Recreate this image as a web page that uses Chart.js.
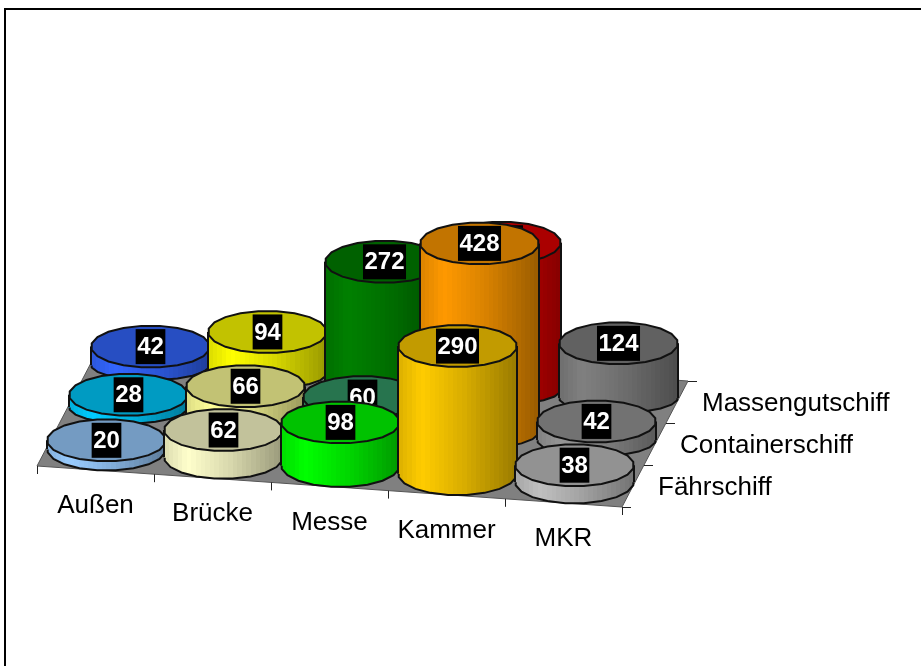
<!DOCTYPE html>
<html lang="de"><head><meta charset="utf-8">
<style>html,body{margin:0;padding:0;background:#fff}canvas{display:block}</style>
<script src="https://cdn.jsdelivr.net/npm/chart.js@4"></script>
</head><body><canvas id="c" width="921" height="666"></canvas>
<script>
const categories = ["Außen","Brücke","Messe","Kammer","MKR"];
const seriesNames = ["Fährschiff","Containerschiff","Massengutschiff"];
const faehrschiff = [20,62,98,290,38];
const containerschiff = [28,66,60,428,42];
const massengutschiff = [42,94,272,334,124];
const sideColorsF = ["#99CCFF","#FFFFCC","#00FF00","#FFCC00","#C0C0C0"];
const sideColorsC = ["#00CCFF","#FFFF99","#339966","#FF9900","#969696"];
const sideColorsM = ["#3366FF","#FFFF00","#008000","#E00000","#808080"];
const allValues = [faehrschiff,containerschiff,massengutschiff];
const allSides = [sideColorsF,sideColorsC,sideColorsM];

// scene projection (scale units)
const W=921,H=666, O={x:37,y:466}, STEP_CAT={x:117,y:8.2}, STEP_SER={x:22,y:-42}, UNIT=0.44;
const RX=59.5, RY=21, BOTTOM_RY=[21.5,16.5,15];
const project=(i,j)=>({x:O.x+i*STEP_CAT.x+j*STEP_SER.x,y:O.y+i*STEP_CAT.y+j*STEP_SER.y});

function shade(hex,f){const n=parseInt(hex.slice(1),16);
  const c=[n>>16&255,n>>8&255,n&255].map(v=>Math.min(255,Math.round(v*f)));return `rgb(${c[0]},${c[1]},${c[2]})`;}

const datasets=[];
const nC=categories.length,nS=seriesNames.length;
let order=1000;
const corners=[project(0,0),project(nC,0),project(nC,nS),project(0,nS),project(0,0)];
datasets.push({type:'line',data:corners,order:order--,fill:'shape',backgroundColor:'#808080',
  borderColor:'#555',borderWidth:1,pointRadius:0,tension:0,isFloor:true});
for(let j=nS-1;j>=0;j--){for(let i=0;i<nC;i++){
  const p=project(i+.5,j+.5), v=allValues[j][i], side=allSides[j][i];
  datasets.push({type:'bar',label:seriesNames[j]+' '+categories[i],data:[{x:p.x,y:[p.y,p.y-v*UNIT]}],
    value:v,side,row:j,order:order--,barThickness:RX*2,borderWidth:0,grouped:false,
    backgroundColor:ctx=>sideGradient(ctx.chart,side,p.x)});
}}
// banded side shading: light near the left, falling off to the right
function bandFactor(t){return t<.2? .86+.14*t/.2 : t<.55? 1-.15*(t-.2)/.35 : .85-.25*(t-.55)/.45;}
function sideGradient(chart,color,x){
  const c=chart.scales.x.getPixelForValue(x);
  if(!Number.isFinite(c))return color;
  const g=chart.ctx.createLinearGradient(c-RX,0,c+RX,0), B=26;
  for(let b=0;b<B;b++){const col=shade(color,bandFactor((b+.5)/B));
    g.addColorStop(b/B,col);g.addColorStop((b+1)/B,col);}
  return g;
}
function ellipsePath(ctx,x,y,rx,ry){
  const N=20;ctx.beginPath();
  for(let k=0;k<N;k++){const a=2*Math.PI*(k+.5)/N;const px=x+rx*Math.cos(a),py=y+ry*Math.sin(a);
    k?ctx.lineTo(px,py):ctx.moveTo(px,py);}
  ctx.closePath();
}
const barEnds=el=>({top:Math.min(el.y,el.base),bottom:Math.max(el.y,el.base)});
const cylinders={id:'cylinders',
  beforeDatasetDraw(chart,args){
    const ds=chart.data.datasets[args.index];if(ds.isFloor)return;
    const el=args.meta.data[0],ctx=chart.ctx,{bottom}=barEnds(el);ctx.save();
    ellipsePath(ctx,el.x,bottom,RX,BOTTOM_RY[ds.row]);
    ctx.fillStyle=sideGradient(chart,ds.side,ds.data[0].x);ctx.fill();
    ctx.lineWidth=2;ctx.strokeStyle='#111';ctx.stroke();ctx.restore();
  },
  afterDatasetDraw(chart,args){
    const ds=chart.data.datasets[args.index];if(ds.isFloor)return;
    const el=args.meta.data[0],ctx=chart.ctx,{top,bottom}=barEnds(el);ctx.save();
    ctx.lineWidth=2;ctx.strokeStyle='#111';
    ctx.beginPath();ctx.moveTo(el.x-RX,top);ctx.lineTo(el.x-RX,bottom);
    ctx.moveTo(el.x+RX,top);ctx.lineTo(el.x+RX,bottom);ctx.stroke();
    ellipsePath(ctx,el.x,top,RX,RY);
    ctx.fillStyle=shade(ds.side,.76);ctx.fill();ctx.stroke();
    const txt=String(ds.value);
    ctx.font='bold 24px "Liberation Sans",Arial,sans-serif';
    const w=ctx.measureText(txt).width+3;
    ctx.fillStyle='#000';ctx.fillRect(el.x-w/2,top-17.5,w,35);
    ctx.fillStyle='#fff';ctx.textAlign='center';ctx.textBaseline='middle';
    ctx.fillText(txt,el.x,top+1);
    ctx.restore();
  },
  beforeDatasetsDraw(chart){
    const ctx=chart.ctx;ctx.save();
    ctx.strokeStyle='#000';ctx.lineWidth=2;ctx.strokeRect(5,9,W+20,H+20);
    ctx.restore();
  },
  afterDatasetsDraw(chart){
    const ctx=chart.ctx,sx=chart.scales.x,sy=chart.scales.y;ctx.save();
    ctx.strokeStyle='#222';ctx.lineWidth=1;ctx.fillStyle='#000';
    ctx.font='26px "Liberation Sans",Arial,sans-serif';
    ctx.beginPath();
    for(let i=0;i<=nC;i++){const p=project(i,0),x=Math.round(sx.getPixelForValue(p.x))+.5,y=sy.getPixelForValue(p.y);
      ctx.moveTo(x,y);ctx.lineTo(x,y+8);}
    for(let j=0;j<=nS;j++){const p=project(nC,j),y=Math.round(sy.getPixelForValue(p.y))+.5,x=sx.getPixelForValue(p.x);
      ctx.moveTo(x,y);ctx.lineTo(x+9,y);}
    ctx.stroke();
    ctx.textBaseline='middle';ctx.textAlign='center';
    categories.forEach((c,i)=>{const p=project(i+.5,0);
      ctx.fillText(c,sx.getPixelForValue(p.x),sy.getPixelForValue(p.y)+36);});
    ctx.textAlign='left';
    seriesNames.forEach((s,j)=>{const p=project(nC,j+.5);
      ctx.fillText(s,sx.getPixelForValue(p.x)+25,sy.getPixelForValue(p.y)+1.5);});
    ctx.restore();
  }
};
new Chart(document.getElementById('c'),{
  type:'bar',data:{datasets},plugins:[cylinders],
  options:{responsive:false,animation:false,clip:false,layout:{padding:0},
    plugins:{legend:{display:false},tooltip:{enabled:false},title:{display:false}},
    scales:{x:{type:'linear',min:0,max:W,display:false,offset:false},
            y:{type:'linear',min:0,max:H,reverse:true,display:false}}}
});
</script></body></html>
